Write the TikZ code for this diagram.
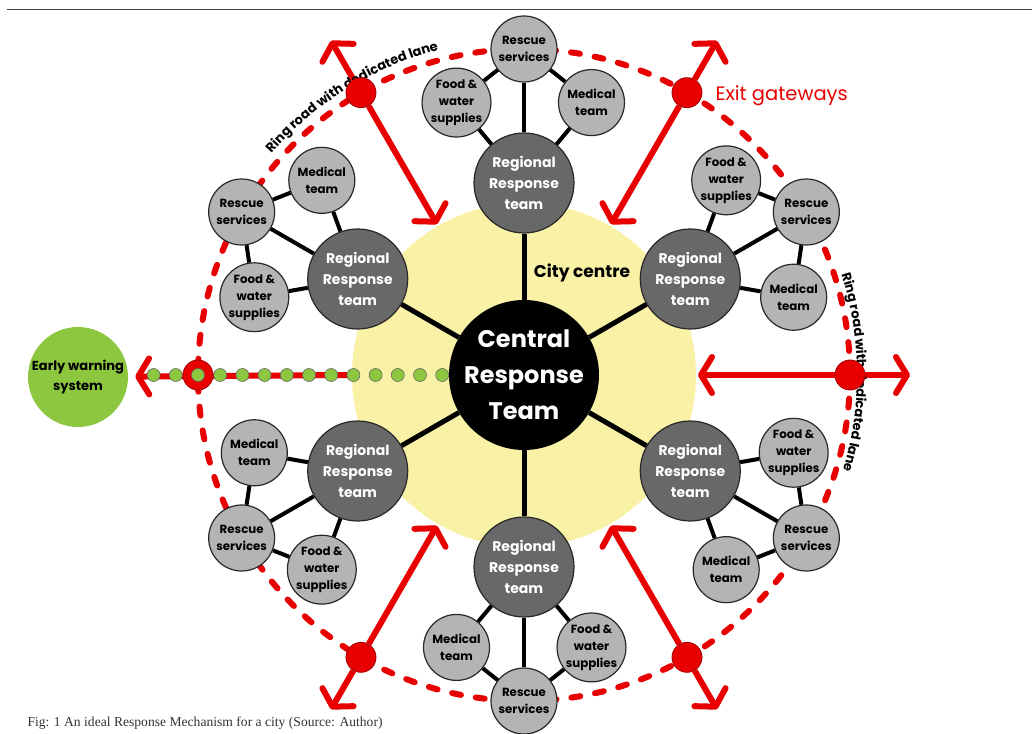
\documentclass[tikz,border=0pt]{standalone}
\usepackage{fontspec}
\setmainfont{Poppins}
\newfontfamily\capfont{Liberation Serif}
\usepackage{tikz}
\usetikzlibrary{calc,arrows.meta,decorations.text,backgrounds}
\pgfdeclarelayer{back}
\pgfdeclarelayer{mid}
\pgfsetlayers{back,mid,main}
\definecolor{roadred}{RGB}{232,0,0}
\definecolor{citycol}{RGB}{249,242,166}
\definecolor{regcol}{RGB}{104,104,104}
\definecolor{teamcol}{RGB}{180,180,180}
\definecolor{warncol}{RGB}{141,198,63}
\definecolor{edgecol}{RGB}{40,40,40}

\begin{document}
\begin{tikzpicture}[x=1pt, y=1pt,
  central/.style={circle, fill=black, minimum size=150pt, inner sep=0pt, align=center,
    text=white, font=\bfseries\fontsize{24}{36}\selectfont},
  regional/.style={circle, draw=edgecol, line width=1.2pt, fill=regcol, minimum size=100pt,
    inner sep=0pt, align=center, text=white, font=\bfseries\fontsize{14}{21}\selectfont},
  team/.style={circle, draw=edgecol, line width=1.2pt, fill=teamcol, minimum size=66pt,
    inner sep=0pt, align=center, font=\bfseries\fontsize{11.8}{17}\selectfont},
  exit/.style={circle, draw=roadred!70!black, line width=0.8pt, fill=roadred,
    minimum size=30pt, inner sep=0pt},
  wdot/.style={circle, draw=black!60, line width=0.6pt, fill=warncol, minimum size=13pt,
    inner sep=0pt},
  link/.style={line width=4pt},
  spoke/.style={line width=5pt},
  road/.style={draw=roadred, line width=6pt, line cap=round, dash pattern=on 9pt off 15pt},
  gate/.style={draw=roadred, line width=6pt, -{Straight Barb[length=11pt, width=36pt, round]}},
]
\useasboundingbox (-524,-358) rectangle (508,375);
\draw[black!75, line width=1.5pt] (-517,365.7) -- (508,365.7);
%
% city centre
\begin{pgfonlayer}{back}
\node[circle, fill=citycol, minimum size=344pt] (city) at (0,0) {};
\end{pgfonlayer}
\node[font=\bfseries\fontsize{17}{17}\selectfont] (citylbl) at (58,102) {City centre};
\node[central] (crt) at (0,0) {Central\\Response\\Team};
%
% ring road
\begin{pgfonlayer}{mid}
\draw[road] (0,0) circle[radius=326pt];
\end{pgfonlayer}
\path[decorate, decoration={text along path, text align=center,
  text={|\bfseries\fontsize{13}{13}\selectfont|Ring road with dedicated lane}}]
  (161.75:336) arc[start angle=161.75, end angle=81.75, radius=336pt];
\path[decorate, decoration={text along path, text align=center,
  text={|\bfseries\fontsize{13}{13}\selectfont|Ring road with dedicated lane}}]
  (40.5:333) arc[start angle=40.5, end angle=-39.5, radius=333pt];
%
% regional teams
\foreach \a/\n [evaluate=\a as \fa using \a+40, evaluate=\a as \ma using \a-40]
  in {90/t, 30/tr, -30/br, -90/b, -150/bl, 150/tl}{
  \node[regional] (reg\n) at (\a:192) {Regional\\Response\\team};
  \node[team] (res\n) at (\a:326) {Rescue\\services};
  \node[team] (food\n) at ($(reg\n)+(\fa:105)$) {Food \&\\water\\supplies};
  \node[team] (med\n) at ($(reg\n)+(\ma:105)$) {Medical\\team};
  \draw[spoke] (crt) -- (reg\n);
  \draw[link] (reg\n) -- (res\n);
  \draw[link] (reg\n) -- (food\n);
  \draw[link] (reg\n) -- (med\n);
  \draw[link] (food\n) -- (res\n);
  \draw[link] (med\n) -- (res\n);
}
%
% exit gateways
\foreach \a/\n in {60/ne, 120/nw, -60/se, -120/sw, 0/e}{
  \coordinate (in\n) at (\a:174);
  \coordinate (out\n) at (\a:386);
  \node[exit] (exit\n) at (\a:326) {};
  \begin{pgfonlayer}{mid}
  \draw[gate] (exit\n) -- (in\n);
  \draw[gate] (exit\n) -- (out\n);
  \end{pgfonlayer}
}
\node[anchor=west, text=roadred, font=\fontsize{19.5}{19.5}\selectfont] (exitlbl) at (188,279) {Exit gateways};
%
% early warning
\node[circle, fill=warncol, minimum size=100pt, inner sep=0pt, align=center,
  font=\bfseries\fontsize{13}{20}\selectfont] (warn) at (-446,-2) {Early warning\\system};
\node[exit] (exitw) at (180:326) {};
\coordinate (inw) at (180:174);
\begin{pgfonlayer}{mid}
\draw[gate, {Straight Barb[length=11pt, width=36pt, round]}-, shorten <=7pt] (warn) -- (inw);
\end{pgfonlayer}
\foreach \i in {0,...,13}
  \node[wdot] (dot\i) at ({-370.4+22.2*\i},0) {};
%
\node[anchor=base west, font=\capfont\fontsize{13.6}{13.6}\selectfont, text=black!80] (caption)
  at (-500,-351) {Fig: 1 An ideal Response Mechanism for a city (Source: Author)};
\end{tikzpicture}
\end{document}
